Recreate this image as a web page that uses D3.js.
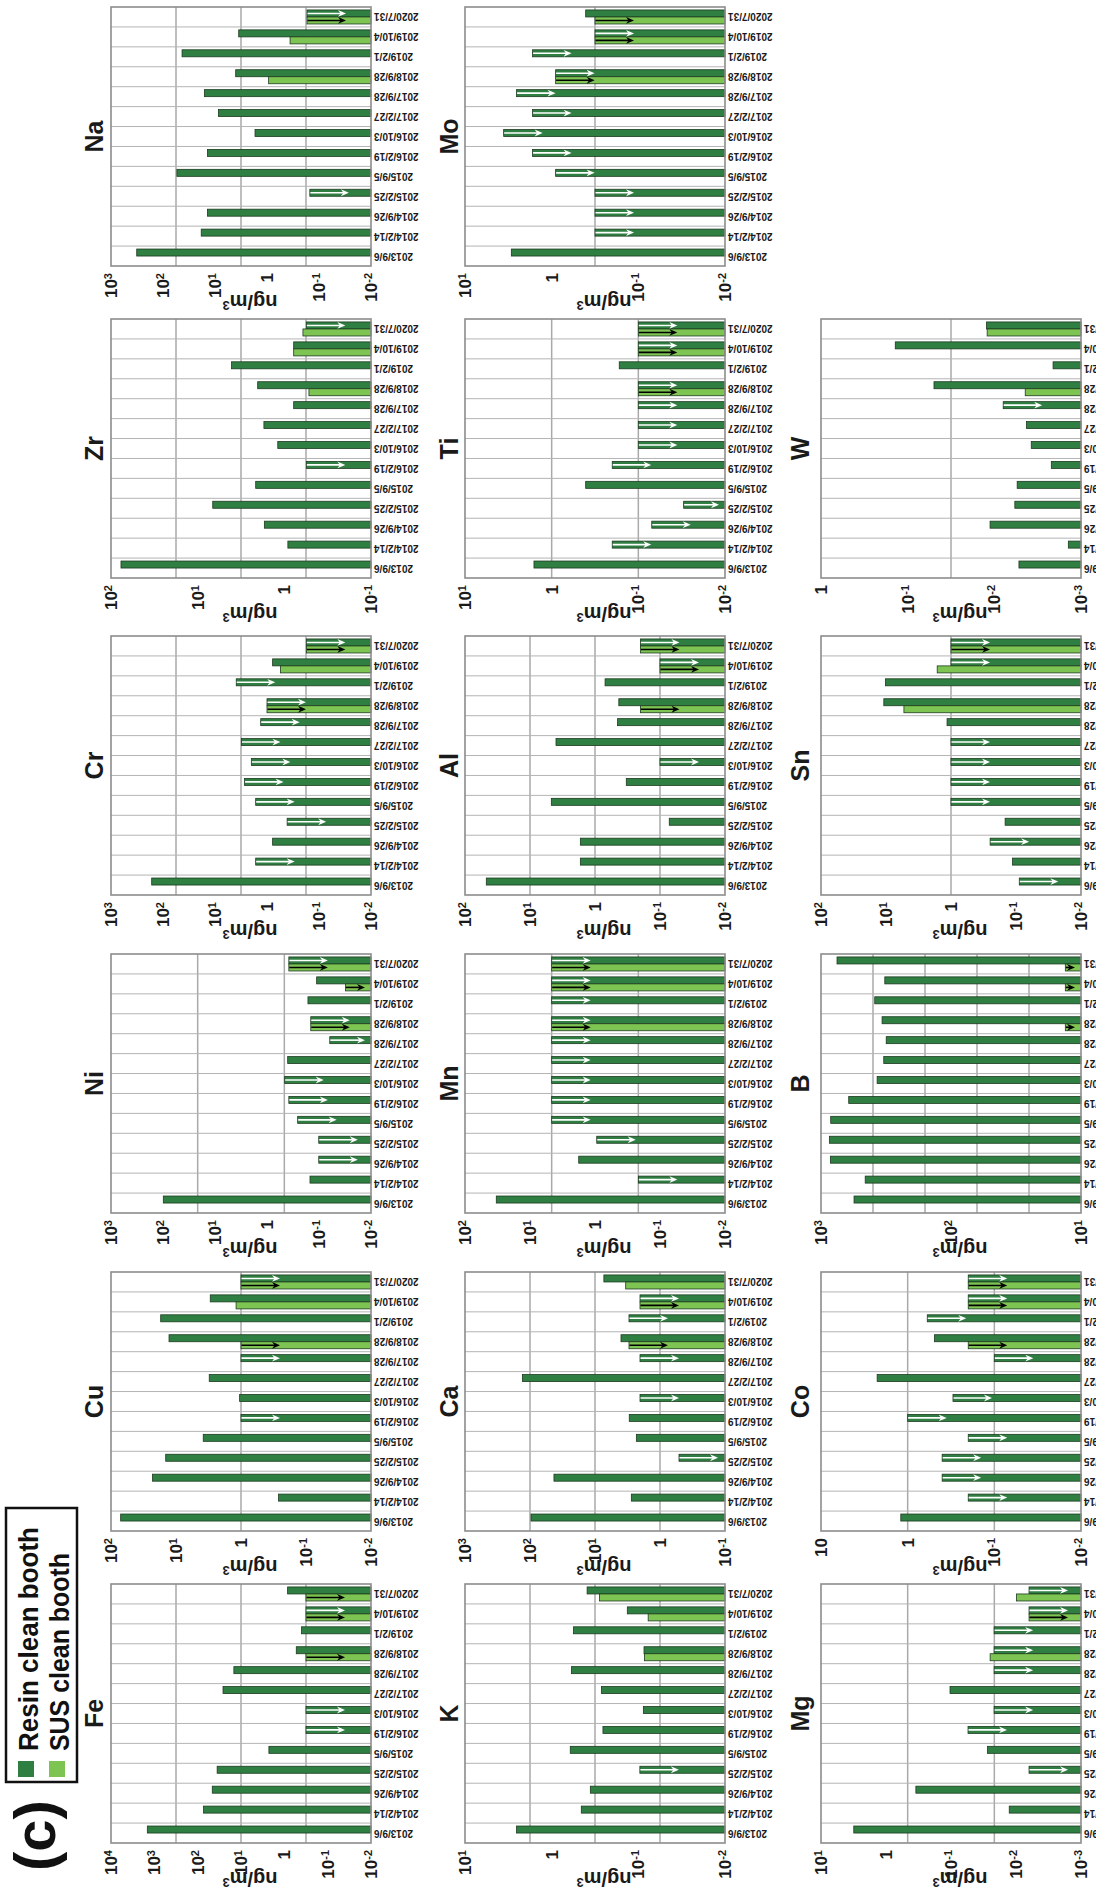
<!DOCTYPE html>
<html>
<head>
<meta charset="utf-8">
<script src="https://cdn.jsdelivr.net/npm/d3@7"></script>
<style>
  html, body { margin: 0; padding: 0; background: #fff; overflow: hidden; }
  svg { display: block; font-family: "Liberation Sans", Arial, sans-serif; }
</style>
</head>
<body>
<svg id="chart" width="1096" height="1899"></svg>
<script>
// Sampling dates (category axis of every panel)
const dates = ["2013/9/6","2014/2/14","2014/9/26","2015/2/25","2015/9/5","2016/2/19","2016/10/3",
               "2017/2/27","2017/9/28","2018/9/28","2019/2/1","2019/10/4","2020/7/31"];
// Dates on which the SUS booth was also sampled
const susDates = ["2018/9/28","2019/10/4","2020/7/31"];
const seriesNames = ["Resin clean booth", "SUS clean booth"];

// Panels, row by row
const elements = ["Fe","Cu","Ni","Cr","Zr","Na",
                  "K","Ca","Mn","Al","Ti","Mo",
                  "Mg","Co","B","Sn","W"];
// Log axis range of each panel, as powers of ten
const axisTopExp    = [ 4,  2,  3,  3,  2,  3,   1,  3,  2,  2,  1,  1,   1,  1, 3,  2,  0];
const axisBottomExp = [-2, -2, -2, -2, -1, -2,  -2, -1, -2, -2, -2, -2,  -3, -2, 1, -2, -3];
// Number of equal intervals between value gridlines
const valueGridSteps = [4, 2, 3, 4, 4, 4,  4, 4, 3, 4, 3, 2,  3, 3, 5, 2, 2];
// Panels whose "10^1" tick is written as a plain "10"
const plainTenLabel = ["Co"];

// Concentrations in ng/m3. *_resin: one value per date; *_sus: one value per SUS date.
// *Below flags mark results below the detection limit (value = detection limit, drawn with an arrow).
const Fe_resin = [1450, 73, 46, 35.5, 2.27, 0.316, 0.316, 26, 14.6, 0.53, 0.40, 0.316, 0.84];
const Fe_resinBelow = [0,0,0,0,0,1,1,0,0,0,0,1,0];
const Fe_sus = [0.316, 0.316, 0.316];
const Fe_susBelow = [1,1,1];

const Cu_resin = [71, 0.264, 23, 14.4, 3.81, 1.0, 1.05, 3.08, 1.0, 12.8, 17.2, 2.97, 1.0];
const Cu_resinBelow = [0,0,0,0,0,1,0,0,1,0,0,0,1];
const Cu_sus = [1.0, 1.19, 1.0];
const Cu_susBelow = [1,0,1];

const Ni_resin = [98.6, 0.149, 0.101, 0.101, 0.257, 0.38, 0.457, 0.40, 0.062, 0.144, 0.163, 0.111, 0.38];
const Ni_resinBelow = [0,0,1,1,1,1,1,0,1,1,0,0,1];
const Ni_sus = [0.144, 0.031, 0.38];
const Ni_susBelow = [1,1,1];

const Cr_resin = [165, 1.65, 0.78, 0.41, 1.65, 2.7, 2.0, 3.1, 1.32, 1.0, 3.9, 0.78, 0.175];
const Cr_resinBelow = [0,1,0,1,1,1,1,1,1,1,1,0,1];
const Cr_sus = [1.0, 0.55, 0.175];
const Cr_susBelow = [1,0,1];

const Zr_resin = [76.7, 0.91, 1.7, 6.7, 2.14, 0.557, 1.19, 1.72, 0.78, 2.03, 4.06, 0.78, 0.557];
const Zr_resinBelow = [0,0,0,0,0,1,0,0,0,0,0,0,1];
const Zr_sus = [0.52, 0.78, 0.61];
const Zr_susBelow = [0,0,0];

const Na_resin = [320, 18.4, 14, 0.15, 54, 14, 1.7, 8.6, 16, 4.0, 43, 3.5, 0.17];
const Na_resinBelow = [0,0,0,1,0,0,0,0,0,0,0,0,1];
const Na_sus = [0.93, 0.36, 0.17];
const Na_susBelow = [0,0,1];

const K_resin = [2.54, 0.455, 0.358, 0.096, 0.61, 0.256, 0.0875, 0.267, 0.59, 0.086, 0.56, 0.134, 0.39];
const K_resinBelow = [0,0,0,1,0,0,0,0,0,0,0,0,0];
const K_sus = [0.085, 0.077, 0.28];
const K_susBelow = [0,0,0];

const Ca_resin = [96.5, 2.76, 42.8, 0.51, 2.31, 2.97, 2.03, 131, 2.03, 3.98, 3.0, 2.03, 7.3];
const Ca_resinBelow = [0,0,0,1,0,0,1,0,1,0,1,1,0];
const Ca_sus = [3.0, 2.03, 3.37];
const Ca_susBelow = [1,1,0];

const Mn_resin = [33, 0.215, 1.78, 0.94, 4.64, 4.64, 4.64, 4.64, 4.64, 4.64, 4.64, 4.64, 4.64];
const Mn_resinBelow = [0,1,0,1,1,1,1,1,1,1,1,1,1];
const Mn_sus = [4.64, 4.64, 4.64];
const Mn_susBelow = [1,1,1];

const Al_resin = [47, 1.68, 1.68, 0.072, 4.7, 0.33, 0.1, 3.98, 0.45, 0.43, 0.70, 0.1, 0.2];
const Al_resinBelow = [0,0,0,0,0,0,1,0,0,0,0,1,1];
const Al_sus = [0.2, 0.1, 0.2];
const Al_susBelow = [1,1,1];

const Ti_resin = [1.6, 0.2, 0.070, 0.030, 0.405, 0.2, 0.1, 0.1, 0.1, 0.1, 0.166, 0.1, 0.1];
const Ti_resinBelow = [0,1,1,1,0,1,1,1,1,1,0,1,1];
const Ti_sus = [0.1, 0.1, 0.1];
const Ti_susBelow = [1,1,1];

const Mo_resin = [2.92, 0.316, 0.316, 0.316, 0.9, 1.66, 3.58, 1.66, 2.54, 0.9, 1.66, 0.316, 0.405];
const Mo_resinBelow = [0,1,1,1,1,1,1,1,1,1,1,1,0];
const Mo_sus = [0.9, 0.316, 0.316];
const Mo_susBelow = [1,1,1];

const Mg_resin = [3.13, 0.0127, 0.347, 0.0063, 0.0275, 0.0547, 0.0217, 0.1035, 0.0217, 0.0217, 0.0217, 0.0063, 0.0063];
const Mg_resinBelow = [0,0,0,1,0,1,1,0,1,1,1,1,1];
const Mg_sus = [0.025, 0.0063, 0.0098];
const Mg_susBelow = [0,1,0];

const Co_resin = [1.2, 0.2, 0.4, 0.4, 0.2, 1.0, 0.3, 2.25, 0.1, 0.49, 0.594, 0.2, 0.2];
const Co_resinBelow = [0,1,1,1,1,1,1,0,1,0,1,1,1];
const Co_sus = [0.2, 0.2, 0.2];
const Co_susBelow = [1,1,1];

const B_resin = [557, 457, 847, 862, 842, 612, 370, 329, 315, 339, 386, 323, 753];
const B_resinBelow = [0,0,0,0,0,0,0,0,0,0,0,0,0];
const B_sus = [13.2, 13.2, 13.2];
const B_susBelow = [1,1,1];

const Sn_resin = [0.089, 0.113, 0.25, 0.147, 1.0, 1.0, 1.0, 1.0, 1.15, 10.8, 10.2, 1.0, 1.0];
const Sn_resinBelow = [1,0,1,0,1,1,1,1,0,0,0,1,1];
const Sn_sus = [5.3, 1.63, 1.0];
const Sn_susBelow = [0,0,1];

const W_resin = [0.0052, 0.0014, 0.0112, 0.0058, 0.00545, 0.0022, 0.00375, 0.00425, 0.0079, 0.0497, 0.0021, 0.139, 0.0123];
const W_resinBelow = [0,0,0,0,0,0,0,0,1,0,0,0,0];
const W_sus = [0.0044, null, 0.0121];
const W_susBelow = [0,0,0];

// Series tables in panel order
const resinValues = [Fe_resin, Cu_resin, Ni_resin, Cr_resin, Zr_resin, Na_resin, K_resin, Ca_resin, Mn_resin,
                     Al_resin, Ti_resin, Mo_resin, Mg_resin, Co_resin, B_resin, Sn_resin, W_resin];
const resinBelow = [Fe_resinBelow, Cu_resinBelow, Ni_resinBelow, Cr_resinBelow, Zr_resinBelow, Na_resinBelow,
                    K_resinBelow, Ca_resinBelow, Mn_resinBelow, Al_resinBelow, Ti_resinBelow, Mo_resinBelow,
                    Mg_resinBelow, Co_resinBelow, B_resinBelow, Sn_resinBelow, W_resinBelow];
const susValues = [Fe_sus, Cu_sus, Ni_sus, Cr_sus, Zr_sus, Na_sus, K_sus, Ca_sus, Mn_sus,
                   Al_sus, Ti_sus, Mo_sus, Mg_sus, Co_sus, B_sus, Sn_sus, W_sus];
const susBelow = [Fe_susBelow, Cu_susBelow, Ni_susBelow, Cr_susBelow, Zr_susBelow, Na_susBelow,
                  K_susBelow, Ca_susBelow, Mn_susBelow, Al_susBelow, Ti_susBelow, Mo_susBelow,
                  Mg_susBelow, Co_susBelow, B_susBelow, Sn_susBelow, W_susBelow];

// ---------- drawing ----------
const FIG_W = 1899;                       // width of the landscape figure
const svg = d3.select("#chart");
// the landscape figure is laid out, then turned a quarter turn to fit the portrait page
const root = svg.append("g").attr("transform", `translate(0,${FIG_W}) rotate(-90)`);

const colX = [56, 368, 686, 1004, 1321, 1633];
const rowY = [111, 465, 821];
const panelW = 259, panelH = 260;
const titleGap = [17, 16, 21];

const COLOR = { resin: "#2e7f41", sus: "#7ec452" };
const EDGE = "#1d3b20";
const ARROW = { resin: "#ffffff", sus: "#000000" };

function powerLabel(text, e, plainTen, supSize) {
  if (e === 0) { text.text("1"); return; }
  if (e === 1 && plainTen) { text.text("10"); return; }
  text.append("tspan").text("10");
  text.append("tspan").attr("dy", "-0.45em").attr("font-size", supSize).text(String(e));
}

elements.forEach((el, i) => {
  const r = Math.floor(i / 6), c = i % 6;
  const x0 = colX[c], y0 = rowY[r];
  const lo = axisBottomExp[i], hi = axisTopExp[i];
  const g = root.append("g").attr("class", "panel");

  const x = d3.scaleBand().domain(dates).range([x0, x0 + panelW]);
  const xs = d3.scaleBand().domain(["sus", "resin"]).range([0, x.bandwidth()]).paddingOuter(0.42);
  const y = d3.scaleLog().domain([10 ** lo, 10 ** hi]).range([y0 + panelH, y0]);
  const base = y0 + panelH;

  // value gridlines, evenly spaced in log space
  const n = valueGridSteps[i];
  const gridVals = d3.range(1, n).map(k => 10 ** (lo + k * (hi - lo) / n));
  g.selectAll("line.vgrid").data(gridVals).join("line")
    .attr("class", "vgrid")
    .attr("x1", x0).attr("x2", x0 + panelW)
    .attr("y1", d => y(d)).attr("y2", d => y(d))
    .attr("stroke", "#a9a9a9").attr("stroke-width", 1.5);

  // category separators
  g.selectAll("line.cgrid").data(dates.slice(1)).join("line")
    .attr("class", "cgrid")
    .attr("x1", d => x(d)).attr("x2", d => x(d))
    .attr("y1", y0).attr("y2", base)
    .attr("stroke", "#b4b4b4").attr("stroke-width", 1);

  // bars
  const rows = dates.map((d, j) => ({ date: d, key: "resin", v: resinValues[i][j], below: resinBelow[i][j] }))
    .concat(susDates.map((d, j) => ({ date: d, key: "sus", v: susValues[i][j], below: susBelow[i][j] }))
      .filter(o => o.v != null));

  g.selectAll("rect.bar").data(rows).join("rect")
    .attr("class", "bar")
    .attr("x", d => x(d.date) + xs(d.key))
    .attr("width", xs.bandwidth())
    .attr("y", d => y(d.v))
    .attr("height", d => base - y(d.v))
    .attr("fill", d => COLOR[d.key])
    .attr("stroke", EDGE).attr("stroke-width", 0.8);

  // arrows for results below the detection limit
  const belowRows = rows.filter(d => d.below);
  const arrowLen = d => Math.max(8, Math.min(39, (base - y(d.v)) - 6));
  const cx = d => x(d.date) + xs(d.key) + xs.bandwidth() / 2;
  g.selectAll("line.arrow").data(belowRows).join("line")
    .attr("class", "arrow")
    .attr("x1", cx).attr("x2", cx)
    .attr("y1", d => y(d.v) + 0.5)
    .attr("y2", d => y(d.v) + arrowLen(d) - 4)
    .attr("stroke", d => ARROW[d.key]).attr("stroke-width", 1.6);
  g.selectAll("path.head").data(belowRows).join("path")
    .attr("class", "head")
    .attr("d", d => {
      const px = cx(d), tip = y(d.v) + arrowLen(d);
      return `M${px},${tip} L${px - 3.4},${tip - 8} L${px},${tip - 5.5} L${px + 3.4},${tip - 8} Z`;
    })
    .attr("fill", d => ARROW[d.key]);

  // frame
  g.append("rect")
    .attr("x", x0).attr("y", y0).attr("width", panelW).attr("height", panelH)
    .attr("fill", "none").attr("stroke", "#8c8c8c").attr("stroke-width", 1.6);

  // value tick labels
  d3.range(lo, hi + 1).forEach(e => {
    const t = g.append("text")
      .attr("x", x0 - 7).attr("y", y(10 ** e)).attr("dy", "0.35em")
      .attr("text-anchor", "end")
      .attr("font-size", 17).attr("font-weight", "bold").attr("fill", "#1a1a1a");
    powerLabel(t, e, plainTenLabel.includes(el), 11);
  });

  // unit title
  const unit = g.append("text")
    .attr("transform", `translate(${x0 - 36},${y0 + panelH / 2 + 9}) rotate(-90)`)
    .attr("text-anchor", "middle").attr("dy", "0.35em")
    .attr("font-size", 20).attr("font-weight", "bold").attr("fill", "#1a1a1a");
  unit.append("tspan").text("ng/m");
  unit.append("tspan").attr("dy", "-0.45em").attr("font-size", 13).text("3");

  // date labels
  g.selectAll("text.date").data(dates).join("text")
    .attr("class", "date")
    .attr("transform", d => `translate(${x(d) + x.bandwidth() / 2},${base + 3}) rotate(-90)`)
    .attr("text-anchor", "end").attr("dy", "0.35em")
    .attr("font-size", 10).attr("font-weight", "bold").attr("fill", "#1a1a1a")
    .text(d => d);

  // element name
  g.append("text")
    .attr("x", x0 + panelW / 2).attr("y", y0 - titleGap[r]).attr("dy", "0.35em")
    .attr("text-anchor", "middle")
    .attr("font-size", 25).attr("font-weight", "bold").attr("fill", "#1a1a1a")
    .text(el);
});

// panel tag and legend
root.append("text")
  .attr("x", 28).attr("y", 55)
  .attr("font-size", 58).attr("font-weight", "bold").attr("fill", "#111")
  .text("(c)");

const legend = root.append("g");
legend.append("rect")
  .attr("x", 117).attr("y", 6).attr("width", 274).attr("height", 71)
  .attr("fill", "#fff").attr("stroke", "#111").attr("stroke-width", 2.5);
const legendKeys = ["resin", "sus"];
legendKeys.forEach((k, j) => {
  const ly = 18 + j * 31;
  legend.append("rect")
    .attr("x", 122).attr("y", ly).attr("width", 16).attr("height", 16)
    .attr("fill", COLOR[k]);
  legend.append("text")
    .attr("x", 148).attr("y", ly + 20)
    .attr("font-size", 28).attr("font-weight", "bold").attr("fill", "#111")
    .attr("textLength", j === 0 ? 224 : 198).attr("lengthAdjust", "spacingAndGlyphs")
    .text(seriesNames[j]);
});
</script>
</body>
</html>
